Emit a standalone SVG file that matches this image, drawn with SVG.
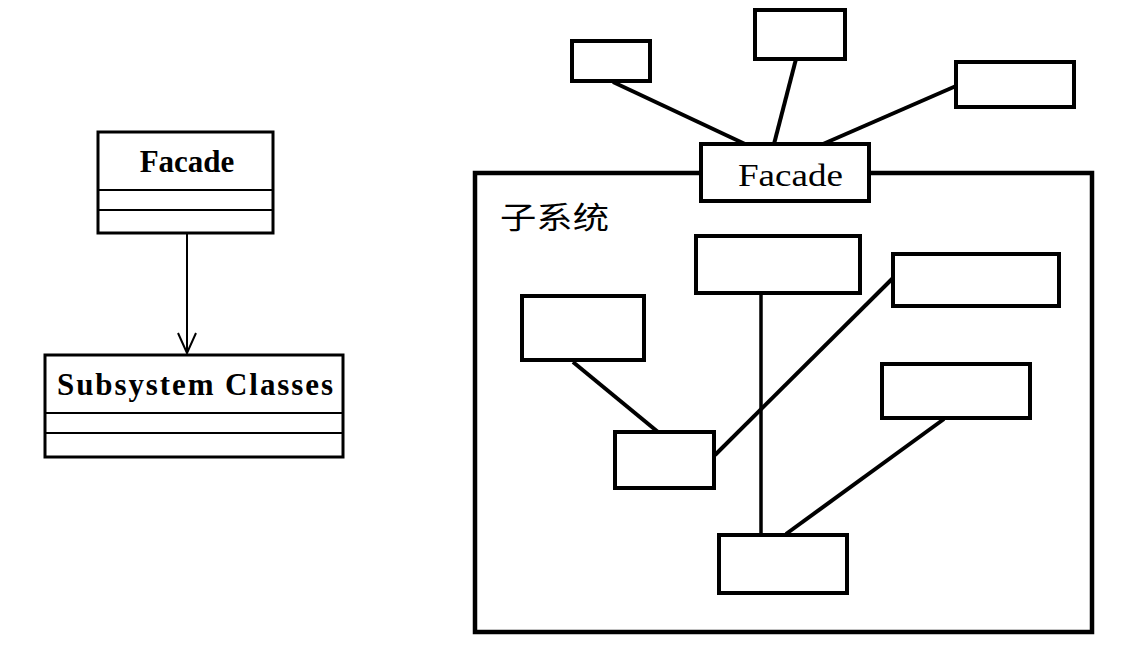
<svg xmlns="http://www.w3.org/2000/svg" width="1122" height="650" viewBox="0 0 1122 650">
<style>
.bg{fill:#ffffff}
.uml{fill:#ffffff;stroke:#000;stroke-width:3}
.sep{stroke:#000;stroke-width:2}
.box{fill:#ffffff;stroke:#000;stroke-width:4}
.frame{fill:none;stroke:#000;stroke-width:4.5}
.conn{fill:none;stroke:#000;stroke-width:4;stroke-linecap:butt}
.thin{fill:none;stroke:#000;stroke-width:2}
.bold{font-family:"Liberation Serif","Times New Roman",serif;font-weight:bold;font-size:31px;fill:#000}
.reg{font-family:"Liberation Serif","Times New Roman",serif;font-size:32px;fill:#000}
.cjk{font-family:"Liberation Serif","Noto Sans CJK SC",sans-serif;font-size:30px;fill:#000}
</style>
<defs>
<marker id="open" markerWidth="24" markerHeight="22" refX="21" refY="11" orient="auto" markerUnits="userSpaceOnUse" viewBox="0 0 24 22">
<path d="M1,2 L21,11 L1,20" fill="none" stroke="#000" stroke-width="2"/>
</marker>
</defs>
<rect class="bg" x="0" y="0" width="1122" height="650"/>

<g id="connectors">
<line class="thin" x1="187" y1="233" x2="187" y2="353" marker-end="url(#open)"/>
<line class="conn" x1="613" y1="82" x2="745" y2="144"/>
<line class="conn" x1="796" y1="59" x2="774" y2="144"/>
<line class="conn" x1="956" y1="86" x2="823" y2="144"/>
<line class="conn" x1="761" y1="293" x2="761" y2="534" style="stroke-width:3.5"/>
<line class="conn" x1="573" y1="362" x2="658" y2="432"/>
<line class="conn" x1="715" y1="455" x2="893" y2="278"/>
<line class="conn" x1="944" y1="419" x2="786" y2="534"/>
</g>

<g id="facade-class">
<rect class="uml" x="98" y="132" width="175" height="101"/>
<line class="sep" x1="98" y1="190" x2="273" y2="190"/>
<line class="sep" x1="98" y1="210" x2="273" y2="210"/>
<text class="bold" x="187" y="172" text-anchor="middle">Facade</text>
</g>

<g id="subsystem-classes">
<rect class="uml" x="45" y="355" width="298" height="102"/>
<line class="sep" x1="45" y1="413" x2="343" y2="413"/>
<line class="sep" x1="45" y1="433" x2="343" y2="433"/>
<text class="bold" x="57" y="395" textLength="276" lengthAdjust="spacing">Subsystem Classes</text>
</g>

<g id="subsystem-frame">
<rect class="frame" x="475" y="173" width="617" height="459"/>
<text class="cjk" x="500" y="228" textLength="109" lengthAdjust="spacingAndGlyphs">子系统</text>
</g>

<g id="client-a"><rect class="box" x="572" y="41" width="78" height="40"/></g>
<g id="client-b"><rect class="box" x="755" y="10" width="90" height="49"/></g>
<g id="client-c"><rect class="box" x="956" y="62" width="118" height="45"/></g>

<g id="facade">
<rect class="box" x="701" y="144" width="168" height="57"/>
<text class="reg" x="738" y="186" textLength="105" lengthAdjust="spacingAndGlyphs">Facade</text>
</g>

<g id="sub-d"><rect class="box" x="696" y="236" width="164" height="57"/></g>
<g id="sub-e"><rect class="box" x="893" y="254" width="166" height="52"/></g>
<g id="sub-f"><rect class="box" x="522" y="296" width="122" height="64"/></g>
<g id="sub-g"><rect class="box" x="882" y="364" width="148" height="54"/></g>
<g id="sub-h"><rect class="box" x="615" y="432" width="99" height="56"/></g>
<g id="sub-i"><rect class="box" x="719" y="535" width="128" height="58"/></g>
</svg>
